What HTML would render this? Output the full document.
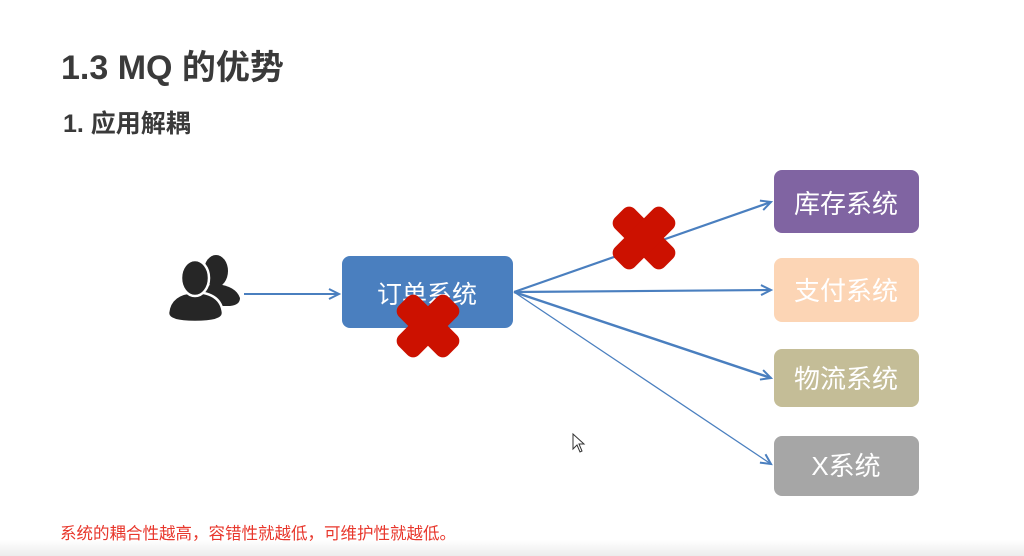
<!DOCTYPE html>
<html><head><meta charset="utf-8"><style>
html,body{margin:0;padding:0;background:#fff;}
body{width:1024px;height:556px;overflow:hidden;position:relative;font-family:"Liberation Sans","Noto Sans CJK SC",sans-serif;}
.t{position:absolute;font-weight:bold;color:#3a3a3a;white-space:nowrap;}
</style></head><body>
<div style="position:absolute;left:0;top:540px;width:1024px;height:16px;background:linear-gradient(#fff,#ececec);"></div>
<div class="t" style="left:61px;top:40px;font-size:34px;">1.3 MQ 的优势</div>
<div class="t" style="left:63px;top:104px;font-size:25px;">1. 应用解耦</div>
<div style="position:absolute;left:60px;top:520px;font-size:16.5px;color:#e8372c;white-space:nowrap;">系统的耦合性越高，容错性就越低，可维护性就越低。</div>
<svg width="1024" height="556" style="position:absolute;left:0;top:0" font-family="Liberation Sans, Noto Sans CJK SC, sans-serif">
<defs>
<marker id="a" markerWidth="14" markerHeight="14" refX="11" refY="6" orient="auto" markerUnits="userSpaceOnUse">
<path d="M1,1 L11,6 L1,11" fill="none" stroke="#4a7fbf" stroke-width="2"/>
</marker>
</defs>
<!-- people icon -->
<g fill="#262626">
<ellipse cx="216" cy="271" rx="12" ry="16"/>
<path d="M196,300 Q200,285 216,284 Q236,286 240,298 Q240,305 230,306 L204,306 Z"/>
<g stroke="#fff" stroke-width="2.5">
<path d="M168,313 Q170,293 195,292 Q221,293 223,313 Q223,322 195,322 Q168,322 168,313 Z"/>
<ellipse cx="195" cy="278" rx="14" ry="18"/>
</g>
</g>
<line x1="244" y1="294" x2="339" y2="294" stroke="#4a7fbf" stroke-width="2" marker-end="url(#a)"/>
<rect x="342" y="256" width="171" height="72" rx="8" fill="#4a7fbf"/>
<text x="427" y="303" font-size="25" fill="#fff" text-anchor="middle">订单系统</text>
<line x1="514" y1="292" x2="771" y2="202" stroke="#4a7fbf" stroke-width="2.2" marker-end="url(#a)"/>
<line x1="514" y1="292" x2="771" y2="290" stroke="#4a7fbf" stroke-width="2.2" marker-end="url(#a)"/>
<line x1="514" y1="292" x2="771" y2="378" stroke="#4a7fbf" stroke-width="2.5" marker-end="url(#a)"/>
<line x1="514" y1="292" x2="771" y2="464" stroke="#4a7fbf" stroke-width="1.3" marker-end="url(#a)"/>
<rect x="774" y="170" width="145" height="63" rx="8" fill="#8064a2"/>
<text x="846" y="213" font-size="26" fill="#fff" text-anchor="middle">库存系统</text>
<rect x="774" y="258" width="145" height="64" rx="8" fill="#fcd5b5"/>
<text x="846" y="300" font-size="26" fill="#fff" text-anchor="middle">支付系统</text>
<rect x="774" y="349" width="145" height="58" rx="8" fill="#c4bd97"/>
<text x="846" y="388" font-size="26" fill="#fff" text-anchor="middle">物流系统</text>
<rect x="774" y="436" width="145" height="60" rx="8" fill="#a6a6a6"/>
<text x="846" y="475" font-size="26" fill="#fff" text-anchor="middle">X系统</text>
<g fill="#cc1100">
<g transform="translate(644,238) rotate(45)"><rect x="-35" y="-14" width="70" height="28" rx="8"/><rect x="-14" y="-35" width="28" height="70" rx="8"/></g>
<g transform="translate(428,326) rotate(45)"><rect x="-35" y="-14" width="70" height="28" rx="8"/><rect x="-14" y="-35" width="28" height="70" rx="8"/></g>
</g>
<path d="M573,434 L573,449 L577,445 L580,452 L582,451 L579,444 L584,444 Z" fill="#fff" stroke="#333" stroke-width="1"/>
</svg>
</body></html>
